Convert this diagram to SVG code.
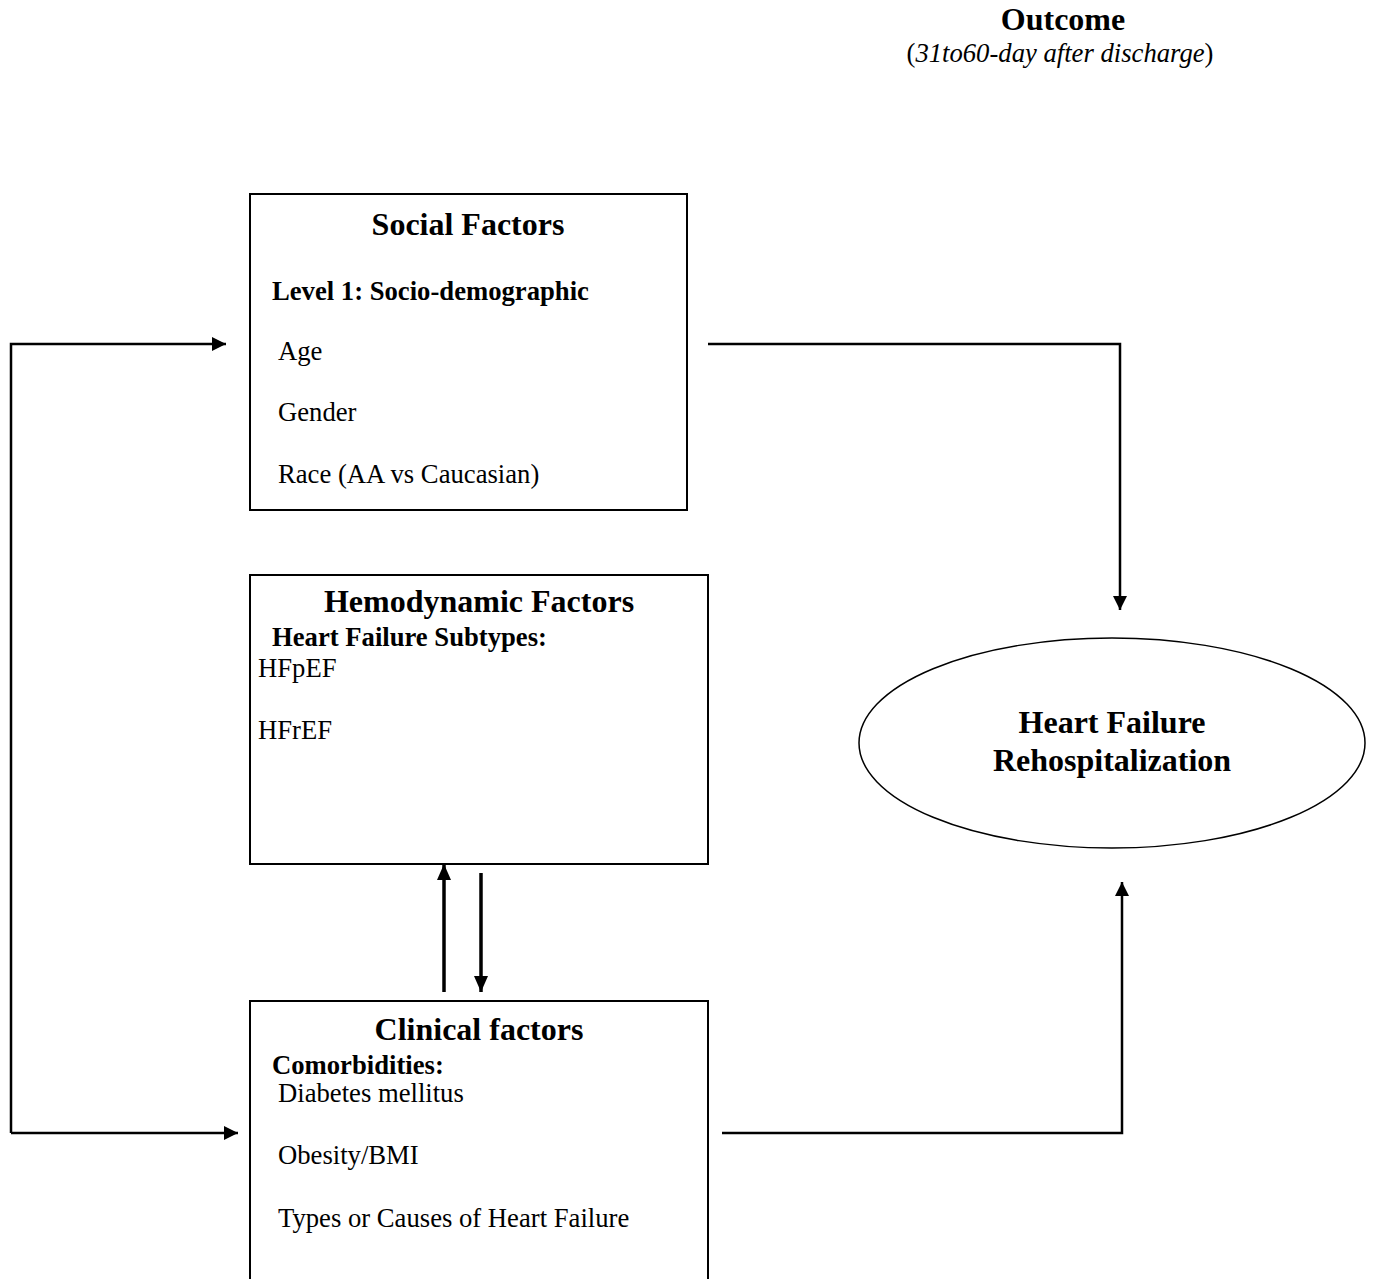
<svg xmlns="http://www.w3.org/2000/svg" width="1373" height="1279" viewBox="0 0 1373 1279">
<style>
text{font-family:"Liberation Serif","Times New Roman",serif;fill:#000}
.t{font-size:32px;font-weight:bold;text-anchor:middle}
.s{font-size:26.67px;font-weight:bold}
.n{font-size:26.67px}
.box{fill:#fff;stroke:#000;stroke-width:2}
.c{fill:none;stroke:#000;stroke-width:2.5}
.c2{fill:none;stroke:#000;stroke-width:3.5}
</style>
<defs>
<marker id="ah2" markerWidth="14" markerHeight="14" refX="14" refY="7" orient="auto" markerUnits="userSpaceOnUse" viewBox="0 0 14 14"><path d="M0,0 L14,7 L0,14 Z" fill="#000"/></marker>
<marker id="ah3" markerWidth="16" markerHeight="14" refX="16" refY="7" orient="auto" markerUnits="userSpaceOnUse" viewBox="0 0 16 14"><path d="M0,0 L16,7 L0,14 Z" fill="#000"/></marker>
</defs>
<g id="outcome">
<text x="1063" y="30" class="t">Outcome</text>
<text x="1060" y="62" style="font-size:26.67px;text-anchor:middle">(<tspan font-style="italic">31to60-day after discharge</tspan>)</text>
</g>
<g id="social">
<rect class="box" x="250" y="194" width="437" height="316"/>
<text x="468" y="235" class="t">Social Factors</text>
<text x="272" y="300" class="s">Level 1: Socio-demographic</text>
<text x="278" y="360" class="n">Age</text>
<text x="278" y="421" class="n">Gender</text>
<text x="278" y="483" class="n">Race (AA vs Caucasian)</text>
</g>
<g id="hemodynamic">
<rect class="box" x="250" y="575" width="458" height="289"/>
<text x="479" y="612" class="t">Hemodynamic Factors</text>
<text x="272" y="646" class="s">Heart Failure Subtypes:</text>
<text x="258" y="677" class="n">HFpEF</text>
<text x="258" y="739" class="n">HFrEF</text>
</g>
<g id="clinical">
<rect class="box" x="250" y="1001" width="458" height="290"/>
<text x="479" y="1040" class="t">Clinical factors</text>
<text x="272" y="1074" class="s">Comorbidities:</text>
<text x="278" y="1102" class="n">Diabetes mellitus</text>
<text x="278" y="1164" class="n">Obesity/BMI</text>
<text x="278" y="1227" class="n">Types or Causes of Heart Failure</text>
</g>
<g id="rehosp">
<ellipse cx="1112" cy="743" rx="253" ry="105" fill="#fff" stroke="#000" stroke-width="1.5"/>
<text x="1112" y="733" class="t">Heart Failure</text>
<text x="1112" y="771" class="t">Rehospitalization</text>
</g>
<g id="connectors">
<path class="c" d="M11,1133 V344 H226" marker-end="url(#ah2)"/>
<path class="c" d="M11,1133 H238" marker-end="url(#ah2)"/>
<path class="c" d="M708,344 H1120 V610" marker-end="url(#ah2)"/>
<path class="c" d="M722,1133 H1122 V882" marker-end="url(#ah2)"/>
<path class="c2" d="M444,992 V864" marker-end="url(#ah3)"/>
<path class="c2" d="M481,873 V992" marker-end="url(#ah3)"/>
</g>
</svg>
